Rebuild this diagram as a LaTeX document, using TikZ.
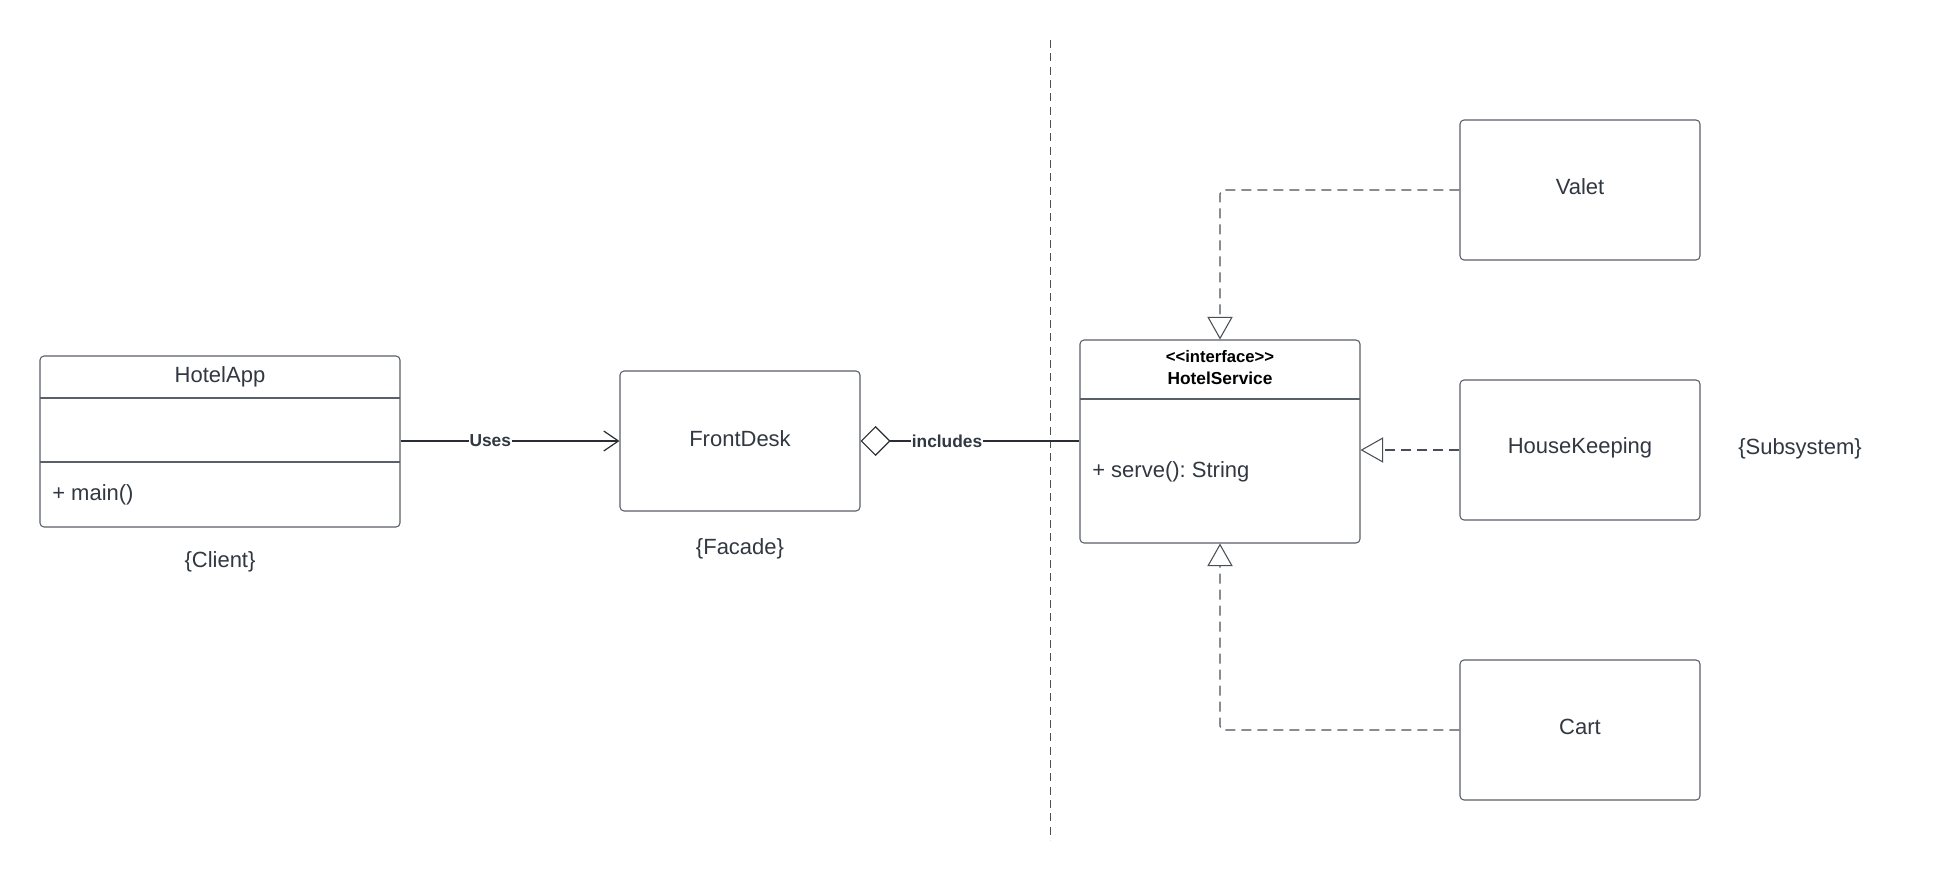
\documentclass[tikz,border=0pt]{standalone}
\usepackage{fontspec}
\setmainfont{Liberation Sans}
\usetikzlibrary{arrows.meta}
\frenchspacing
\definecolor{textc}{HTML}{313842}
\definecolor{boxc}{HTML}{5A6069}
\definecolor{linec}{HTML}{2A2D33}
\definecolor{dashc}{HTML}{4A4F57}
\tikzset{
  box/.style={draw=boxc, line width=0.8pt, rounded corners=3pt, inner sep=0pt, fill=white},
  txt/.style={text=textc, font=\fontsize{16.5}{19}\selectfont, inner sep=0pt},
  lbl/.style={text=textc, font=\fontsize{13}{15}\selectfont\bfseries, fill=white, inner sep=0.6pt},
  stereo/.style={text=black, font=\fontsize{12.5}{15}\selectfont\bfseries, inner sep=0pt},
  divider/.style={draw=boxc, line width=0.8pt},
  solidline/.style={draw=linec, line width=0.9pt},
  dashline/.style={draw=dashc, line width=0.8pt, dash pattern=on 7.5pt off 4.5pt, rounded corners=3pt},
  sepline/.style={draw=dashc, line width=0.6pt, dash pattern=on 6pt off 4pt},
  realize/.style={-{Triangle[open, length=17pt, width=19pt, fill=white]}}
}
\begin{document}
\begin{tikzpicture}[x=0.75pt, y=-0.75pt]
\useasboundingbox[fill=white] (0,0) rectangle (1960,880);

% separator
\coordinate (sepTop) at (1050,40);
\coordinate (sepBot) at (1050,840);
\draw[sepline] (sepTop) -- (sepBot);

% HotelApp (client)
\node[box, minimum width=270pt, minimum height=128.25pt] (app) at (220,441.5) {};
\draw[divider] (40,398) -- (400,398);
\draw[divider] (40,462) -- (400,462);
\node[txt] (appTitle) at (220,376.5) {HotelApp};
\node[txt, anchor=west] (appOp) at (52,495) {+ main()};
\node[txt] (client) at (220,561.5) {\{Client\}};

% FrontDesk (facade)
\node[box, minimum width=180pt, minimum height=105pt] (fd) at (740,441) {};
\node[txt] (fdTitle) at (740,439) {FrontDesk};
\node[txt] (facade) at (740,549) {\{Facade\}};

% HotelService interface
\node[box, minimum width=210pt, minimum height=152.25pt] (hs) at (1220,441.5) {};
\draw[divider] (1080,399) -- (1360,399);
\node[stereo] (hsSt) at (1220,357) {<\kern0pt<interface>\kern0pt>};
\node[stereo, font=\fontsize{13}{15}\selectfont\bfseries] (hsName) at (1220,378) {HotelService};
\node[txt, anchor=west] (hsOp) at (1092,471.5) {+ serve(): String};

% Subsystem classes
\node[box, minimum width=180pt, minimum height=105pt] (valet) at (1580,190) {};
\node[txt] (valetT) at (1580,186.5) {Valet};
\node[box, minimum width=180pt, minimum height=105pt] (hk) at (1580,450) {};
\node[txt] (hkT) at (1580,447.5) {HouseKeeping};
\node[box, minimum width=180pt, minimum height=105pt] (cart) at (1580,730) {};
\node[txt] (cartT) at (1580,726.5) {Cart};
\node[txt] (subsys) at (1800,448.5) {\{Subsystem\}};

% connectors
\draw[solidline, -{Straight Barb[length=11pt, width=15pt]}] (app.east |- fd.west) -- (fd.west)
  node[lbl, pos=0.41] {Uses};
\draw[solidline, {Diamond[open, length=22.5pt, width=22.5pt, fill=white]}-] (fd.east) -- (fd.east -| hs.west)
  node[lbl, pos=0.395] {includes};
\draw[dashline, realize] (valet.west) -| (hs.north);
\draw[dashline, realize] (hk.west) -- (hk.west -| hs.east);
\draw[dashline, realize] (cart.west) -| (hs.south);
\end{tikzpicture}
\end{document}
